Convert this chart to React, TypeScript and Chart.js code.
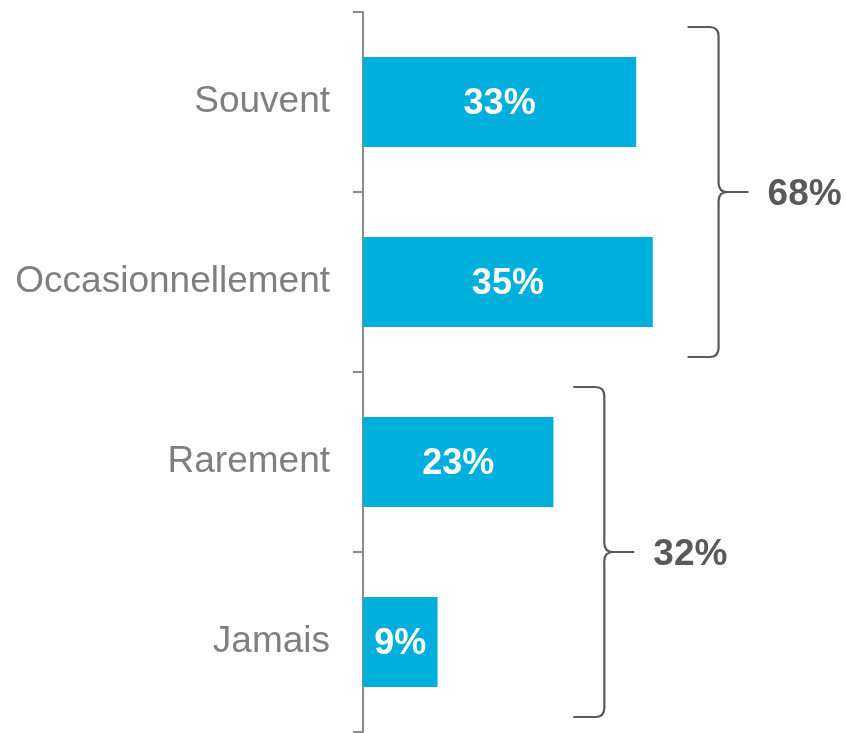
import React, { useEffect, useRef } from "react";
import { Chart, registerables } from "chart.js";

Chart.register(...registerables);

const categories = ["Souvent", "Occasionnellement", "Rarement", "Jamais"];
const values = [33, 35, 23, 9];
// groups for braces: indices of categories and horizontal position (in x-axis value units)
const groupStarts = [0, 2];
const groupEnds = [1, 3];
const groupBraceAt = [39.2, 25.4];

const FONT = '"Liberation Sans", Arial, sans-serif';
const BAR_COLOR = "#00AFDB";
const AXIS_COLOR = "#8c8c8c";
const BRACE_COLOR = "#595959";

const bracePlugin = {
  id: "bracePlugin",
  afterDatasetsDraw(chart: any) {
    const ctx = chart.ctx;
    const meta = chart.getDatasetMeta(0);
    const xScale = chart.scales.x;
    // bar value labels
    ctx.save();
    ctx.fillStyle = "#ffffff";
    ctx.font = `bold 36px ${FONT}`;
    ctx.textAlign = "center";
    ctx.textBaseline = "middle";
    meta.data.forEach((bar: any, i: number) => {
      const cx = (bar.base + bar.x) / 2;
      ctx.fillText(values[i] + "%", cx, bar.y + 2);
    });
    ctx.restore();

    // braces
    groupStarts.forEach((s, g) => {
      const e = groupEnds[g];
      const first = meta.data[s];
      const last = meta.data[e];
      const yTop = first.y - first.height / 2 - 30;
      const yBot = last.y + last.height / 2 + 30;
      const yMid = (first.y + first.height / 2 + last.y - last.height / 2) / 2;
      const x0 = xScale.getPixelForValue(groupBraceAt[g]);
      const x1 = x0 + 31;
      const r = 9;
      const arm = 30;
      ctx.save();
      ctx.strokeStyle = BRACE_COLOR;
      ctx.lineWidth = 2.2;
      ctx.beginPath();
      ctx.moveTo(x0, yTop);
      ctx.lineTo(x1 - r, yTop);
      ctx.quadraticCurveTo(x1, yTop, x1, yTop + r);
      ctx.lineTo(x1, yMid - r);
      ctx.quadraticCurveTo(x1, yMid, x1 + r, yMid);
      ctx.lineTo(x1 + arm, yMid);
      ctx.moveTo(x1 + r, yMid);
      ctx.quadraticCurveTo(x1, yMid, x1, yMid + r);
      ctx.lineTo(x1, yBot - r);
      ctx.quadraticCurveTo(x1, yBot, x1 - r, yBot);
      ctx.lineTo(x0, yBot);
      ctx.stroke();
      let total = 0;
      for (let i = s; i <= e; i++) total += values[i];
      ctx.fillStyle = BRACE_COLOR;
      ctx.font = `bold 37px ${FONT}`;
      ctx.textAlign = "left";
      ctx.textBaseline = "middle";
      ctx.fillText(total + "%", x1 + arm + 19, yMid + 3);
      ctx.restore();
    });
  },
};

export default function App() {
  const ref = useRef<HTMLCanvasElement | null>(null);
  useEffect(() => {
    if (!ref.current) return;
    const chart = new Chart(ref.current, {
      type: "bar",
      data: {
        labels: categories,
        datasets: [
          {
            data: values,
            backgroundColor: BAR_COLOR,
            borderWidth: 0,
            barPercentage: 0.5,
            categoryPercentage: 1,
          },
        ],
      },
      options: {
        indexAxis: "y",
        animation: false,
        responsive: false,
        layout: { padding: { top: 12, bottom: 1, left: 0, right: 69 } },
        plugins: {
          legend: { display: false },
          tooltip: { enabled: false },
        },
        scales: {
          x: {
            display: false,
            min: 0,
            max: 50,
          },
          y: {
            offset: true,
            afterFit: (scale: any) => {
              scale.width = 363;
              scale.paddingTop = 0;
              scale.paddingBottom = 0;
            },
            grid: {
              display: true,
              drawOnChartArea: false,
              drawTicks: true,
              tickLength: 10,
              offset: true,
              color: AXIS_COLOR,
              lineWidth: 2,
            },
            border: { display: true, color: AXIS_COLOR, width: 2 },
            ticks: {
              padding: 23,
              color: "#7f7f7f",
              font: { family: FONT, size: 37 },
            },
          },
        },
      },
      plugins: [bracePlugin],
    });
    return () => chart.destroy();
  }, []);
  return (
    <div style={{ position: "absolute", left: 0, top: 0, width: 846, height: 733, background: "#fff" }}>
      <canvas ref={ref} width={846} height={733} style={{ display: "block" }} />
    </div>
  );
}
